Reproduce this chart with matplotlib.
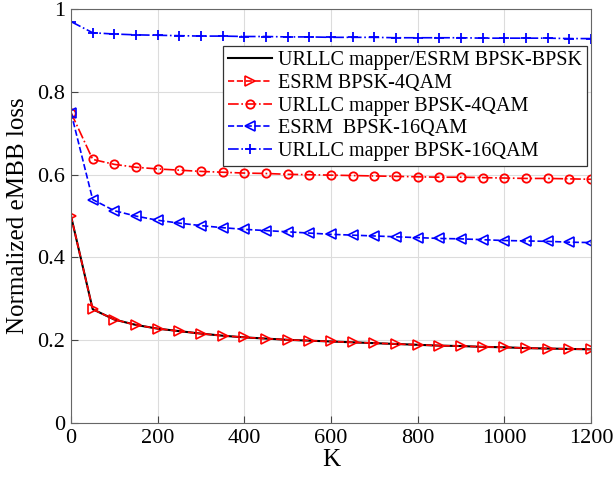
import matplotlib
matplotlib.use("Agg")
import matplotlib.pyplot as plt

K = list(range(0, 1201, 50))

bpsk_bpsk = [0.500, 0.275, 0.250, 0.237, 0.228, 0.222, 0.216, 0.211, 0.207, 0.204,
             0.201, 0.199, 0.197, 0.195, 0.193, 0.191, 0.189, 0.187, 0.186, 0.184,
             0.183, 0.181, 0.180, 0.179, 0.178]
esrm_4qam = list(bpsk_bpsk)
urllc_4qam = [0.750, 0.637, 0.625, 0.618, 0.614, 0.611, 0.608, 0.606, 0.604, 0.603,
              0.601, 0.600, 0.599, 0.598, 0.597, 0.596, 0.595, 0.594, 0.594, 0.593,
              0.592, 0.591, 0.591, 0.590, 0.589]
esrm_16qam = [0.750, 0.540, 0.513, 0.500, 0.490, 0.483, 0.477, 0.472, 0.468, 0.465,
              0.462, 0.459, 0.456, 0.454, 0.452, 0.450, 0.448, 0.446, 0.445, 0.443,
              0.441, 0.440, 0.439, 0.437, 0.436]
urllc_16qam = [0.970, 0.943, 0.940, 0.938, 0.937, 0.936, 0.935, 0.935, 0.934, 0.934,
               0.933, 0.933, 0.932, 0.932, 0.932, 0.931, 0.931, 0.931, 0.931, 0.930,
               0.930, 0.930, 0.930, 0.929, 0.929]

labels = ["URLLC mapper/ESRM BPSK-BPSK", "ESRM BPSK-4QAM", "URLLC mapper BPSK-4QAM",
          "ESRM  BPSK-16QAM", "URLLC mapper BPSK-16QAM"]

plt.rcParams["font.family"] = ["Liberation Serif", "DejaVu Serif"]

fig = plt.figure(figsize=(6.16, 4.84), dpi=100)
ax = fig.add_axes([0.1153, 0.126, 0.8442, 0.855])

mk = dict(markerfacecolor="none", markersize=7, markeredgewidth=1.2)
ax.plot(K, bpsk_bpsk, color="black", ls="-", lw=1.5, label=labels[0])
ax.plot(K, esrm_4qam, color="red", ls="--", lw=1.2, marker=">", label=labels[1], **mk)
ax.plot(K, urllc_4qam, color="red", ls="-.", lw=1.2, marker="o", label=labels[2],
        markerfacecolor="none", markersize=6, markeredgewidth=1.3)
ax.plot(K, esrm_16qam, color="blue", ls="--", lw=1.2, marker="<", label=labels[3], **mk)
ax.plot(K, urllc_16qam, color="blue", ls="-.", lw=1.2, marker="+", label=labels[4],
        markersize=7, markeredgewidth=1.3)

ax.set_xlim(0, 1200)
ax.set_ylim(0, 1)
ax.set_xticks(range(0, 1201, 200))
ax.set_yticks([0, 0.2, 0.4, 0.6, 0.8, 1])
ax.set_yticklabels(["0", "0.2", "0.4", "0.6", "0.8", "1"])
ax.grid(True, color="#dcdcdc", lw=0.8)
ax.tick_params(direction="in", labelsize=16, length=5, color="#444444", pad=4)
for s in ax.spines.values():
    s.set_color("#666666")
ax.set_xlabel("K", fontsize=18, labelpad=1)
ax.set_ylabel("Normalized eMBB loss", fontsize=18, labelpad=6)

leg = ax.legend(loc="upper right", bbox_to_anchor=(0.9923, 0.9106), fontsize=14.5,
                fancybox=False, edgecolor="#333333", framealpha=1,
                handlelength=2.2, handletextpad=0.3, borderpad=0.25,
                labelspacing=0.18, borderaxespad=0)
leg.get_frame().set_linewidth(0.9)

fig.savefig("out.png", dpi=100)
